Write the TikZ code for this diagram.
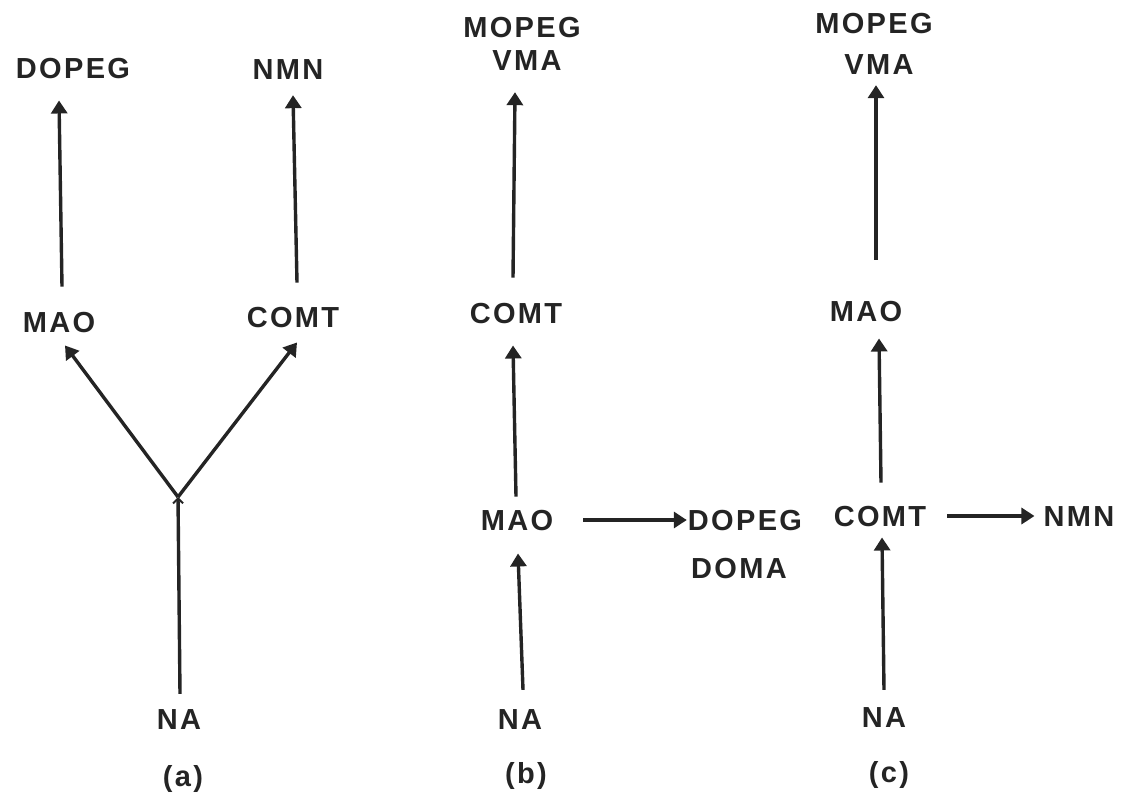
\documentclass[tikz,border=0pt]{standalone}
\usepackage{fontspec}
\setmainfont{Liberation Sans}[LetterSpace=8]
\usetikzlibrary{arrows.meta,calc}
\definecolor{ink}{HTML}{242424}
\tikzset{
  lbl/.style={inner sep=0pt, text=ink, font=\fontsize{29}{33}\selectfont\bfseries},
  flow/.style={draw=ink, line width=3.4pt, -{Triangle[width=16pt,length=13pt]}},
  forkline/.style={draw=ink, line width=3.4pt, -{Straight Barb[width=10pt,length=5pt,line width=2pt]}},
}
\begin{document}
\begin{tikzpicture}[x=1pt,y=-1pt]
\useasboundingbox (0,0) rectangle (1129,795);

% ---- (a) branching pathway ----
\node[lbl] (a-dopeg) at (73,69)  {DOPEG};
\node[lbl] (a-nmn)   at (288,70) {NMN};
\node[lbl] (a-mao)   at (59,323) {MAO};
\node[lbl] (a-comt)  at (293,318) {COMT};
\node[lbl] (a-na)    at (179,720) {NA};
\node[lbl] (a-tag)   at (183,779) {(a)};
\coordinate (a-fork) at (178,497);

\draw[flow] ([xshift=3pt,yshift=26pt]a-mao.north) -- ([xshift=-14pt,yshift=-21pt]a-dopeg.south);
\draw[flow] ([xshift=4pt,yshift=25pt]a-comt.north) -- ([xshift=5pt,yshift=-15pt]a-nmn.south);
\draw[flow] (a-fork) -- ([xshift=6pt,yshift=-12pt]a-mao.south);
\draw[flow] (a-fork) -- ([xshift=4pt,yshift=-14pt]a-comt.south);
\draw[forkline] ([xshift=1pt,yshift=16pt]a-na.north) -- (a-fork);

% ---- (b) sequential pathway ----
\node[lbl] (b-mopeg) at (522,28)  {MOPEG};
\node[lbl] (b-vma)   at (527,61)  {VMA};
\node[lbl] (b-comt)  at (516,314) {COMT};
\node[lbl] (b-mao)   at (517,521) {MAO};
\node[lbl] (b-dopeg) at (745,521) {DOPEG};
\node[lbl] (b-doma)  at (739,569) {DOMA};
\node[lbl] (b-na)    at (520,720) {NA};
\node[lbl] (b-tag)   at (526,776) {(b)};

\draw[flow] ([xshift=-3pt,yshift=26pt]b-comt.north) -- ([xshift=-12pt,yshift=-21pt]b-vma.south);
\draw[flow] ([xshift=-1pt,yshift=14pt]b-mao.north) -- ([xshift=-3pt,yshift=-21pt]b-comt.south);
\draw[flow] ([xshift=3pt,yshift=20pt]b-na.north) -- ([xshift=1pt,yshift=-22pt]b-mao.south);
\draw[flow] ([xshift=30pt,yshift=1pt]b-mao.east) -- ([xshift=-1pt,yshift=1pt]b-dopeg.west);

% ---- (c) sequential pathway ----
\node[lbl] (c-mopeg) at (874,24)  {MOPEG};
\node[lbl] (c-vma)   at (879,65)  {VMA};
\node[lbl] (c-mao)   at (866,312) {MAO};
\node[lbl] (c-comt)  at (880,517) {COMT};
\node[lbl] (c-nmn)   at (1079,517) {NMN};
\node[lbl] (c-na)    at (884,718) {NA};
\node[lbl] (c-tag)   at (889,775) {(c)};

\draw[flow] ([xshift=10pt,yshift=42pt]c-mao.north) -- ([xshift=-3pt,yshift=-10pt]c-vma.south);
\draw[flow] ([xshift=1pt,yshift=24pt]c-comt.north) -- ([xshift=13pt,yshift=-16pt]c-mao.south);
\draw[flow] ([xshift=0pt,yshift=18pt]c-na.north) -- ([xshift=2pt,yshift=-10pt]c-comt.south);
\draw[flow] ([xshift=21pt,yshift=1pt]c-comt.east) -- ([xshift=-9pt,yshift=1pt]c-nmn.west);
\end{tikzpicture}
\end{document}
